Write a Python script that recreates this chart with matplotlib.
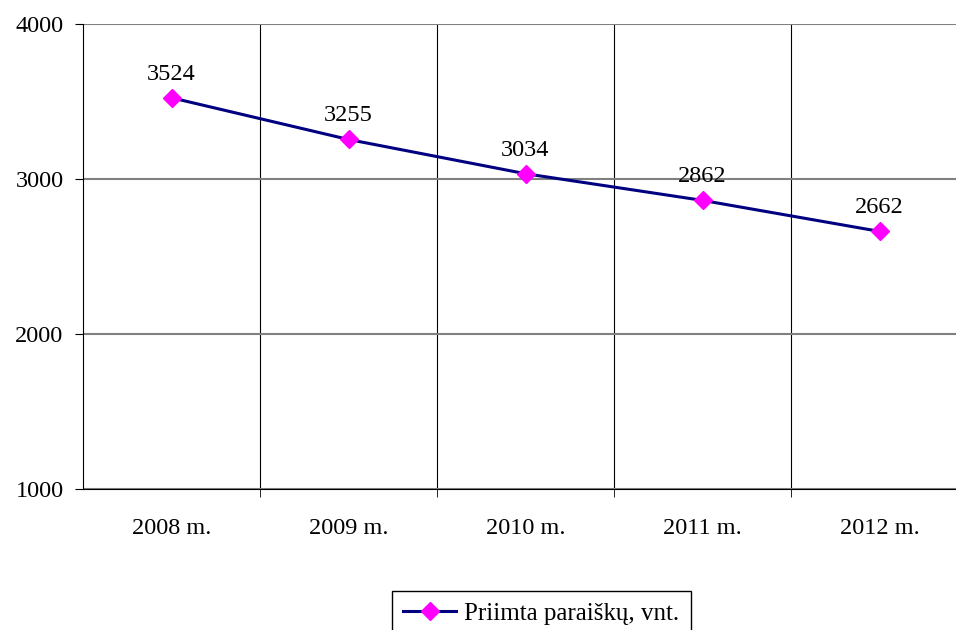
import matplotlib
matplotlib.use('Agg')
import matplotlib.pyplot as plt
import numpy as np

years = ['2008 m.', '2009 m.', '2010 m.', '2011 m.', '2012 m.']
values = [3524, 3255, 3034, 2862, 2662]
series_name = 'Priimta paraiškų, vnt.'

plt.rcParams['font.family'] = ['Liberation Serif', 'DejaVu Serif']
plt.rcParams['font.size'] = 17.5

fig = plt.figure(figsize=(9.56, 6.3), dpi=100)
ax = fig.add_axes([83/956, 1-489/630, 885/956, 465/630])

x = np.arange(len(years))
line, = ax.plot(x, values, color='#000080', lw=2.2, marker='D', ms=9,
                mfc='#ff00ff', mec='#ff00ff', label=series_name, zorder=3)
for xi, v in zip(x, values):
    ax.annotate(str(v), (xi, v), xytext=(0, 13), textcoords='offset points',
                ha='center', va='baseline')

ax.set_xlim(-0.5, len(years) - 0.5)
ax.set_ylim(1000, 4000)
ax.set_yticks([1000, 2000, 3000, 4000])
ax.set_xticks(x)
ax.set_xticklabels(years)
ax.set_xticks(np.arange(len(years)) + 0.5, minor=True)

ax.tick_params(axis='x', which='major', length=0, pad=21)
ax.tick_params(axis='x', which='minor', length=6, direction='out', color='black')
ax.tick_params(axis='y', length=6, direction='out', pad=8)

ax.grid(axis='x', which='minor', color='black', lw=0.8)
ax.grid(axis='y', which='major', color='#808080', lw=1.5)
ax.set_axisbelow(True)

for s in ['top', 'right']:
    ax.spines[s].set_visible(False)
ax.spines['left'].set_color('black')
ax.spines['bottom'].set_color('black')

fig.legend(handles=[line], loc='upper left', bbox_to_anchor=(392/956, 1-591/630),
           frameon=True, fancybox=False, edgecolor='black', framealpha=1,
           borderaxespad=0, handlelength=2.1, handletextpad=0.35, borderpad=0.45,
           prop={'family': ['Liberation Serif', 'DejaVu Serif'], 'size': 18})

fig.savefig('out.png', dpi=100)
